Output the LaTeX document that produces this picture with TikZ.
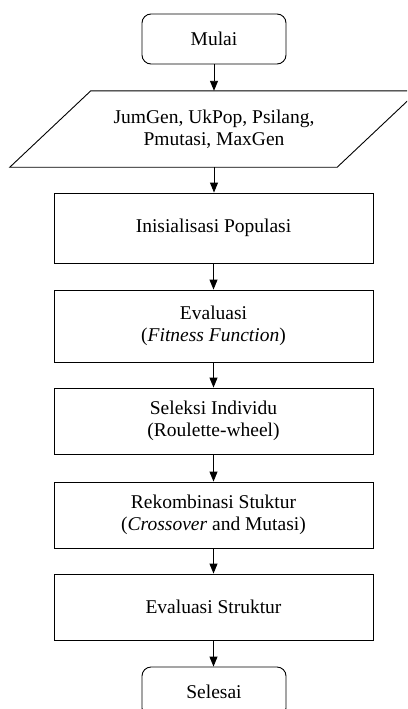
\documentclass[tikz,border=0pt]{standalone}
\usepackage{fontspec}
\setmainfont{Liberation Serif}
\usetikzlibrary{arrows.meta,calc}
\begin{document}
\begin{tikzpicture}[x=1pt,y=-1pt,
  every node/.style={font=\fontsize{19.5}{21.5}\selectfont, align=center, inner sep=0pt},
  term/.style={draw, rounded corners=9pt, minimum width=144pt, minimum height=50pt, line width=0.9pt},
  proc/.style={draw, minimum width=319pt, line width=0.9pt},
  flow/.style={-{Triangle[width=8pt,length=10pt]}, line width=0.9pt}]
\useasboundingbox (0,0) rectangle (407,709);
\clip (0,0) rectangle (407,709);
\node[term] (mulai) at (214,39) {Mulai};
\node[minimum width=246pt, minimum height=76pt] (input) at (214,129) {JumGen, UkPop, Psilang,\\Pmutasi, MaxGen};
\draw[line width=0.9pt] (input.north west) -- ($(input.north east)+(81,0)$)
  -- (input.south east) -- ($(input.south west)+(-81,0)$) -- cycle;
\node[proc, minimum height=70pt] (init) at (213.5,228) {Inisialisasi Populasi};
\node[proc, minimum height=72pt] (eval) at (213.5,326) {Evaluasi\\(\textit{Fitness Function})};
\node[proc, minimum height=66pt] (sel) at (213.5,421) {Seleksi Individu\\(Roulette-wheel)};
\node[proc, minimum height=66pt] (rek) at (213.5,515) {Rekombinasi Stuktur\\(\textit{Crossover} and Mutasi)};
\node[proc, minimum height=66pt] (evs) at (213.5,607) {Evaluasi Struktur};
\node[term] (selesai) at (214,692) {Selesai};
\draw[flow] (mulai.south) -- (input.north);
\draw[flow] (input.south) -- (input.south |- init.north);
\draw[flow] (init.south) -- (eval.north);
\draw[flow] (eval.south) -- (sel.north);
\draw[flow] (sel.south) -- (rek.north);
\draw[flow] (rek.south) -- (evs.north);
\draw[flow] (evs.south) -- (evs.south |- selesai.north);
\end{tikzpicture}
\end{document}
